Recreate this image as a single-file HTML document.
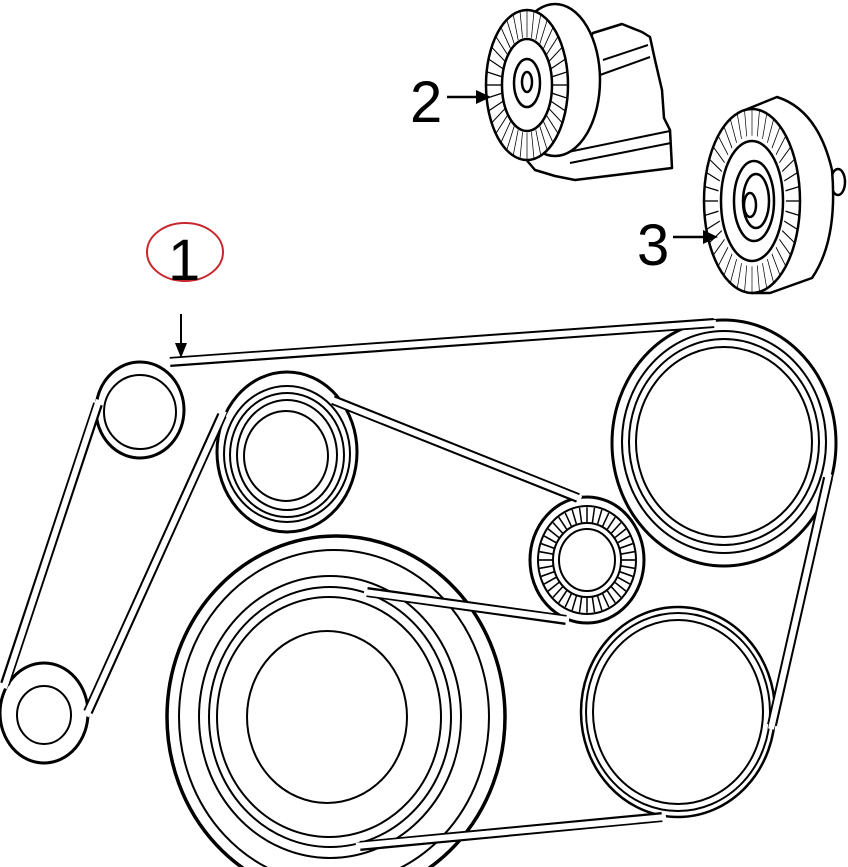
<!DOCTYPE html>
<html><head><meta charset="utf-8"><style>
html,body{margin:0;padding:0;background:#fff}
svg{display:block}
text{font-family:"Liberation Sans",sans-serif;fill:#000}
</style></head><body>
<svg width="848" height="867" viewBox="0 0 848 867" xmlns="http://www.w3.org/2000/svg">
<defs>
<line id="t2" x1="0" y1="-46" x2="0" y2="-72" stroke="#000" stroke-width="1.3"/>
<line id="t3" x1="0" y1="-64" x2="0" y2="-90" stroke="#000" stroke-width="1.3"/>
<line id="tt" x1="0" y1="-34" x2="0" y2="-48" stroke="#000" stroke-width="1.5"/>
</defs>
<rect width="848" height="867" fill="#fff"/>
<g fill="#fff" stroke="#000" stroke-width="2">
<!-- crank -->
<ellipse cx="336" cy="717" rx="169" ry="181" stroke-width="3.5"/>
<ellipse cx="334" cy="717" rx="155" ry="167"/>
<ellipse cx="330" cy="717" rx="131" ry="141"/>
<ellipse cx="330" cy="717" rx="121" ry="130"/>
<ellipse cx="329" cy="717" rx="112" ry="120"/>
<ellipse cx="327" cy="717" rx="80" ry="86"/>
<!-- bottom right -->
<ellipse cx="678" cy="712" rx="97" ry="105" stroke-width="2.5"/>
<ellipse cx="678" cy="712" rx="92" ry="99"/>
<ellipse cx="678" cy="712" rx="85" ry="92"/>
<!-- big right -->
<ellipse cx="724" cy="443" rx="112" ry="123" stroke-width="3"/>
<ellipse cx="724" cy="442" rx="102" ry="111"/>
<ellipse cx="724" cy="442" rx="95" ry="103"/>
<ellipse cx="724" cy="442" rx="88" ry="95"/>
<!-- pulley A -->
<ellipse cx="287" cy="452" rx="70" ry="80" stroke-width="3"/>
<ellipse cx="287" cy="454" rx="63" ry="68"/>
<ellipse cx="287" cy="455" rx="57" ry="62"/>
<ellipse cx="287" cy="455" rx="50" ry="55"/>
<ellipse cx="286" cy="456" rx="42" ry="45"/>
<!-- idler -->
<ellipse cx="140" cy="410" rx="44" ry="48" stroke-width="3"/>
<ellipse cx="140" cy="412" rx="36" ry="37"/>
<!-- bottom left -->
<ellipse cx="44" cy="713" rx="44" ry="50" stroke-width="3"/>
<ellipse cx="44" cy="715" rx="27" ry="29"/>
<!-- tensioner -->
<ellipse cx="587" cy="560" rx="57" ry="63" stroke-width="3"/>
<ellipse cx="587" cy="560" rx="49" ry="54"/>
</g>
<g transform="translate(587,560) scale(1,1.1)">
<use href="#tt"/><use href="#tt" transform="rotate(9)"/><use href="#tt" transform="rotate(18)"/><use href="#tt" transform="rotate(27)"/><use href="#tt" transform="rotate(36)"/><use href="#tt" transform="rotate(45)"/><use href="#tt" transform="rotate(54)"/><use href="#tt" transform="rotate(63)"/><use href="#tt" transform="rotate(72)"/><use href="#tt" transform="rotate(81)"/><use href="#tt" transform="rotate(90)"/><use href="#tt" transform="rotate(99)"/><use href="#tt" transform="rotate(108)"/><use href="#tt" transform="rotate(117)"/><use href="#tt" transform="rotate(126)"/><use href="#tt" transform="rotate(135)"/><use href="#tt" transform="rotate(144)"/><use href="#tt" transform="rotate(153)"/><use href="#tt" transform="rotate(162)"/><use href="#tt" transform="rotate(171)"/><use href="#tt" transform="rotate(180)"/><use href="#tt" transform="rotate(189)"/><use href="#tt" transform="rotate(198)"/><use href="#tt" transform="rotate(207)"/><use href="#tt" transform="rotate(216)"/><use href="#tt" transform="rotate(225)"/><use href="#tt" transform="rotate(234)"/><use href="#tt" transform="rotate(243)"/><use href="#tt" transform="rotate(252)"/><use href="#tt" transform="rotate(261)"/><use href="#tt" transform="rotate(270)"/><use href="#tt" transform="rotate(279)"/><use href="#tt" transform="rotate(288)"/><use href="#tt" transform="rotate(297)"/><use href="#tt" transform="rotate(306)"/><use href="#tt" transform="rotate(315)"/><use href="#tt" transform="rotate(324)"/><use href="#tt" transform="rotate(333)"/><use href="#tt" transform="rotate(342)"/><use href="#tt" transform="rotate(351)"/>
</g>
<g fill="#fff" stroke="#000" stroke-width="2">
<ellipse cx="587" cy="560" rx="34" ry="37"/>
<ellipse cx="587" cy="560" rx="28" ry="31"/>
</g>
<!-- belt straight strands: black wide + white narrow -->
<g fill="none" stroke-linecap="butt">
<g stroke="#000" stroke-width="10">
<line x1="170" y1="362" x2="714" y2="323"/>
<line x1="98" y1="404" x2="5" y2="684"/>
<line x1="88" y1="712" x2="222" y2="415"/>
<line x1="333" y1="400" x2="578" y2="498"/>
<line x1="367" y1="592" x2="566" y2="620"/>
<line x1="828" y1="478" x2="772" y2="725"/>
<line x1="360" y1="846" x2="662" y2="817"/>
</g>
<g stroke="#fff" stroke-width="6">
<line x1="166" y1="362" x2="716" y2="323"/>
<line x1="99" y1="400" x2="4" y2="688"/>
<line x1="86" y1="716" x2="224" y2="411"/>
<line x1="330" y1="399" x2="581" y2="499"/>
<line x1="364" y1="592" x2="569" y2="620"/>
<line x1="829" y1="474" x2="771" y2="729"/>
<line x1="356" y1="846" x2="666" y2="817"/>
</g>
</g>
<!-- label 1 -->
<ellipse cx="185" cy="252" rx="38" ry="29" fill="none" stroke="#c8282d" stroke-width="2"/>
<text x="168" y="280" font-size="58">1</text>
<line x1="181" y1="314" x2="181" y2="345" stroke="#000" stroke-width="2"/>
<polygon points="175,343 187,343 181,358" fill="#000"/>
<!-- part 2 -->
<g fill="#fff" stroke="#000" stroke-width="2.5" stroke-linejoin="round">
<path d="M593,33 L622,24 L642,32 L650,37 L655,60 L662,90 L664,118 L670,130 L672,168 L575,180 L555,176 L535,170 L518,150 Z"/>
<path d="M568,152 L670,131 M570,163 L671,143 M603,60 L648,45 M600,75 L650,57" fill="none" stroke-width="2"/>
<ellipse cx="555" cy="80" rx="45" ry="76"/>
<ellipse cx="527" cy="85" rx="41" ry="75"/>
<ellipse cx="527" cy="85" rx="25" ry="46"/>
<ellipse cx="527" cy="83" rx="13" ry="24"/>
<ellipse cx="527" cy="82" rx="5" ry="10"/>
</g>
<g transform="translate(527,85) scale(0.56,1.04)">
<use href="#t2"/><use href="#t2" transform="rotate(10)"/><use href="#t2" transform="rotate(20)"/><use href="#t2" transform="rotate(30)"/><use href="#t2" transform="rotate(40)"/><use href="#t2" transform="rotate(50)"/><use href="#t2" transform="rotate(60)"/><use href="#t2" transform="rotate(70)"/><use href="#t2" transform="rotate(80)"/><use href="#t2" transform="rotate(90)"/><use href="#t2" transform="rotate(100)"/><use href="#t2" transform="rotate(110)"/><use href="#t2" transform="rotate(120)"/><use href="#t2" transform="rotate(130)"/><use href="#t2" transform="rotate(140)"/><use href="#t2" transform="rotate(150)"/><use href="#t2" transform="rotate(160)"/><use href="#t2" transform="rotate(170)"/><use href="#t2" transform="rotate(180)"/><use href="#t2" transform="rotate(190)"/><use href="#t2" transform="rotate(200)"/><use href="#t2" transform="rotate(210)"/><use href="#t2" transform="rotate(220)"/><use href="#t2" transform="rotate(230)"/><use href="#t2" transform="rotate(240)"/><use href="#t2" transform="rotate(250)"/><use href="#t2" transform="rotate(260)"/><use href="#t2" transform="rotate(270)"/><use href="#t2" transform="rotate(280)"/><use href="#t2" transform="rotate(290)"/><use href="#t2" transform="rotate(300)"/><use href="#t2" transform="rotate(310)"/><use href="#t2" transform="rotate(320)"/><use href="#t2" transform="rotate(330)"/><use href="#t2" transform="rotate(340)"/><use href="#t2" transform="rotate(350)"/>
</g>
<text x="410" y="122" font-size="58">2</text>
<line x1="447" y1="97" x2="478" y2="97" stroke="#000" stroke-width="2.5"/>
<polygon points="476,90 476,104 491,97" fill="#000"/>
<!-- part 3 -->
<g fill="#fff" stroke="#000" stroke-width="2.5" stroke-linejoin="round">
<ellipse cx="838" cy="182" rx="7" ry="13"/>
<path d="M740,112 L777,97 Q818,110 832,170 Q838,240 812,278 L770,293 L752,293 Z"/>
<ellipse cx="752" cy="201" rx="48" ry="92"/>
<ellipse cx="752" cy="201" rx="31" ry="60"/>
<ellipse cx="754" cy="201" rx="20" ry="40"/>
<ellipse cx="756" cy="201" rx="13" ry="27"/>
<ellipse cx="750" cy="205" rx="6" ry="12"/>
</g>
<g transform="translate(752,201) scale(0.53,1.02)">
<use href="#t3"/><use href="#t3" transform="rotate(9)"/><use href="#t3" transform="rotate(18)"/><use href="#t3" transform="rotate(27)"/><use href="#t3" transform="rotate(36)"/><use href="#t3" transform="rotate(45)"/><use href="#t3" transform="rotate(54)"/><use href="#t3" transform="rotate(63)"/><use href="#t3" transform="rotate(72)"/><use href="#t3" transform="rotate(81)"/><use href="#t3" transform="rotate(90)"/><use href="#t3" transform="rotate(99)"/><use href="#t3" transform="rotate(108)"/><use href="#t3" transform="rotate(117)"/><use href="#t3" transform="rotate(126)"/><use href="#t3" transform="rotate(135)"/><use href="#t3" transform="rotate(144)"/><use href="#t3" transform="rotate(153)"/><use href="#t3" transform="rotate(162)"/><use href="#t3" transform="rotate(171)"/><use href="#t3" transform="rotate(180)"/><use href="#t3" transform="rotate(189)"/><use href="#t3" transform="rotate(198)"/><use href="#t3" transform="rotate(207)"/><use href="#t3" transform="rotate(216)"/><use href="#t3" transform="rotate(225)"/><use href="#t3" transform="rotate(234)"/><use href="#t3" transform="rotate(243)"/><use href="#t3" transform="rotate(252)"/><use href="#t3" transform="rotate(261)"/><use href="#t3" transform="rotate(270)"/><use href="#t3" transform="rotate(279)"/><use href="#t3" transform="rotate(288)"/><use href="#t3" transform="rotate(297)"/><use href="#t3" transform="rotate(306)"/><use href="#t3" transform="rotate(315)"/><use href="#t3" transform="rotate(324)"/><use href="#t3" transform="rotate(333)"/><use href="#t3" transform="rotate(342)"/><use href="#t3" transform="rotate(351)"/>
</g>
<text x="637" y="265" font-size="58">3</text>
<line x1="673" y1="237" x2="705" y2="237" stroke="#000" stroke-width="2.5"/>
<polygon points="703,230 703,244 718,237" fill="#000"/>
</svg>
</body></html>
